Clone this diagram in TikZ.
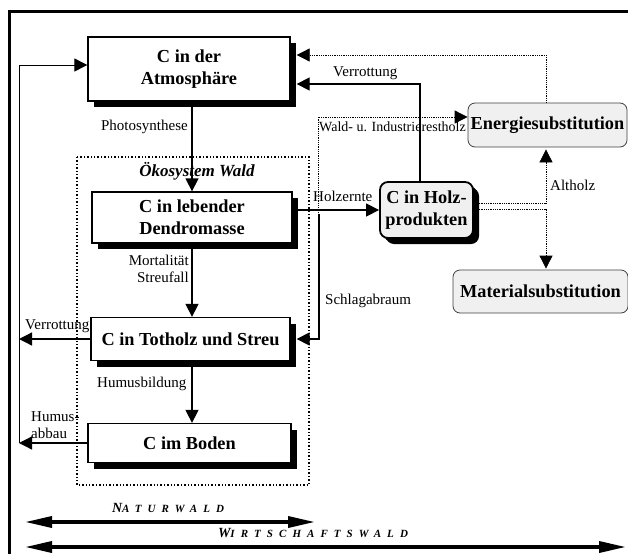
\documentclass[tikz,border=0pt]{standalone}
\usepackage{fontspec}
\setmainfont{Liberation Serif}
\usetikzlibrary{arrows.meta,shadows,positioning}

\tikzset{
  >={Triangle[length=13pt,width=13pt]},
  cbox/.style={draw,line width=1.3pt,fill=white,align=center,inner sep=1pt,
    font=\fontsize{18.3}{22}\selectfont\bfseries,
    drop shadow={fill=black,opacity=1,shadow xshift=6pt,shadow yshift=-6pt}},
  subbox/.style={draw=black!75,line width=0.8pt,rounded corners=7pt,fill=black!6,
    inner sep=1pt,font=\fontsize{18.3}{22}\selectfont\bfseries},
  lbl/.style={font=\fontsize{15}{17}\selectfont,inner sep=0pt},
  flow/.style={->,line width=1.3pt},
  dots/.style={densely dotted,line width=0.8pt},
  spanarrow/.style={{Triangle[length=27pt,width=11pt]}-{Triangle[length=27pt,width=11pt]},line width=3.5pt},
  waldname/.style={font=\fontsize{14}{14}\selectfont\bfseries\itshape\addfontfeatures{LetterSpace=55},inner sep=0pt}
}

\begin{document}
\begin{tikzpicture}[x=1pt,y=-1pt]
\useasboundingbox (0,0) rectangle (628,554);
% frame
\draw[line width=3pt] (9.5,554) -- (9.5,11.5) -- (628,11.5);

% Oekosystem Wald
\draw[dotted,line width=1.4pt] (77,157) rectangle (309,485);
\node[font=\fontsize{17}{19}\selectfont\bfseries\itshape] (oeko) at (197,171) {Ökosystem Wald};

% boxes
\node[cbox,minimum width=202pt,minimum height=64pt] (atm) at (189,69) {C in der\\Atmosphäre};
\node[cbox,minimum width=200pt,minimum height=51pt] (dend) at (192,217.5) {C in lebender\\Dendromasse};
\node[cbox,minimum width=199pt,minimum height=43pt] (tot) at (190.5,339) {C in Totholz und Streu};
\node[cbox,minimum width=203pt,minimum height=39pt] (boden) at (189.5,443) {C im Boden};
\node[cbox,rounded corners=8pt,fill=black!6,line width=1.8pt,minimum width=93pt,minimum height=56pt,
  drop shadow={fill=black,opacity=1,shadow xshift=4pt,shadow yshift=-4pt}] (holz) at (426.5,210) {C in Holz-\\produkten};
\node[subbox,minimum width=159pt,minimum height=44pt] (energie) at (547.5,125) {Energiesubstitution};
\node[subbox,minimum width=175pt,minimum height=43pt] (material) at (540.5,291.5) {Materialsubstitution};

\coordinate (atmsh) at ([xshift=6pt]atm.east);
\coordinate (totsh) at ([xshift=6pt]tot.east);

% flows inside the forest
\draw[flow] (atm.south -| dend.north) -- (dend.north);
\node[lbl,anchor=east] (photo) at (188,127) {Photosynthese};
\draw[flow] (dend.south) -- (dend.south |- tot.north);
\node[lbl,anchor=east,align=right] (mort) at (189,268.5) {Mortalität\\Streufall};
\draw[flow] (dend.south |- tot.south) -- (dend.south |- boden.north);
\node[lbl,anchor=west] (humbild) at (97,384) {Humusbildung};

% back to the atmosphere, left
\coordinate (lt) at (19,65);
\draw[flow] (tot.west) -- (tot.west -| lt);
\node[lbl,anchor=west] (verr1) at (25,326) {Verrottung};
\draw[flow] (boden.west) -- (boden.west -| lt);
\node[lbl,anchor=west,align=left] (humab) at (31,425.5) {Humus-\\abbau};
\draw[flow,line width=1pt] (boden.west -| lt) -- (lt) -- (lt -| atm.west);

% wood products
\draw[flow] (dend.east |- holz.west) -- (holz.west);
\node[lbl,anchor=west] (ernte) at (313,196) {Holzernte};
\coordinate (sa) at (319,214);
\draw[flow] (sa) -- (sa |- totsh) -- (totsh);
\node[lbl,anchor=west] (schlag) at (325,301) {Schlagabraum};
\coordinate (vr) at (420,84);
\draw[flow] (vr |- holz.north) -- (vr) -- (vr -| atmsh);
\node[lbl,anchor=west] (verr2) at (333,73) {Verrottung};

% substitution
\coordinate (et) at (546,55);
\draw[dots,->] (et |- energie.north) -- (et) -- (et -| atmsh);
\coordinate (wb) at (318,213);
\coordinate (wr) at (318,117);
\draw[dots,->] (wb) -- (wr) -- (wr -| energie.west);
\node[lbl,anchor=west,font=\fontsize{14}{16}\selectfont] (rest) at (319,126.5) {Wald- u. Industrierestholz};
\coordinate (ah) at (546,203);
\coordinate (am) at (546,209);
\draw[dots,->,shorten >=2pt] ([xshift=3pt]holz.east |- ah) -- (ah) -- (ah |- energie.south);
\draw[dots,->,shorten >=1pt] ([xshift=3pt]holz.east |- am) -- (am) -- (am |- material.north);
\node[lbl,anchor=west] (alt) at (550,185) {Altholz};

% forest types
\coordinate (nw1) at (25,522);
\coordinate (nw2) at (315,522);
\draw[spanarrow] (nw1) -- (nw2);
\node[waldname] (natur) at (168,508) {N{\fontsize{11}{11}\selectfont ATURWALD}};
\coordinate (ww1) at (25,547);
\coordinate (ww2) at (626,547);
\draw[spanarrow] (ww1) -- (ww2);
\node[waldname] (wirt) at (313,533) {W{\fontsize{11}{11}\selectfont IRTSCHAFTSWALD}};
\end{tikzpicture}
\end{document}
